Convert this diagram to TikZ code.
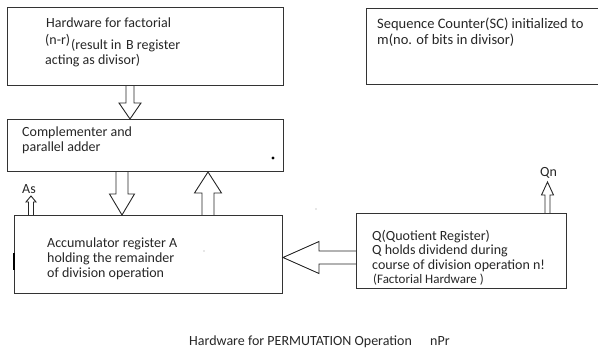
\documentclass[tikz,border=0pt]{standalone}
\usepackage{fontspec}
\setmainfont{Carlito}
\usetikzlibrary{calc}

\tikzset{
  box/.style={draw=black!80, line width=1pt, anchor=north west, inner sep=0pt},
  txt/.style={anchor=base west, inner sep=0pt, text=black!85, font=\fontsize{14}{16}\selectfont},
  hollow/.style={draw=black!85, line width=0.9pt, line join=miter},
}

% hollow block arrow: from, tip, shaft half width, head half width, head length
\newcommand\blockarrow[5]{%
  \coordinate (ba-h) at ($(#2)!#5!(#1)$);
  \draw[hollow] ($(#1)!#3!90:(#2)$) -- ($(ba-h)!#3!90:(#2)$) -- ($(ba-h)!#4!90:(#2)$)
    -- (#2) -- ($(ba-h)!#4!-90:(#2)$) -- ($(ba-h)!#3!-90:(#2)$) -- ($(#1)!#3!-90:(#2)$);
}

\begin{document}
\begin{tikzpicture}[x=1pt,y=-1pt,line cap=butt]
\useasboundingbox (0,0) rectangle (598,352);

% Boxes
\node[box, minimum width=276pt, minimum height=78pt] (fact) at (7,7) {};
\node[box, minimum width=240pt, minimum height=76pt] (sc) at (366,8) {};
\node[box, minimum width=276pt, minimum height=52pt] (comp) at (7,119) {};
\node[box, minimum width=268pt, minimum height=78pt] (acc) at (14,215) {};
\node[box, minimum width=210pt, minimum height=75pt] (qreg) at (356,213) {};

% Texts
\node[txt] (fact1) at (46,28) {Hardware for factorial};
\node[txt, font=\fontsize{14}{16}\selectfont] (fact2) at (45,45) {(n-r)};
\node[txt] (fact3) at (71,50) {(result in};
\node[txt] (fact4) at (126,50) {B register};
\node[txt] (fact5) at (45,65) {acting as divisor)};

\foreach \y/\line [count=\i] in {29/Sequence Counter(SC) initialized to, 45/m(no. of bits in divisor)}
  \node[txt, font=\fontsize{14.5}{16}\selectfont] (sc\i) at (377,\y) {\line};

\foreach \y/\line [count=\i] in {137/Complementer and, 152/parallel adder}
  \node[txt] (comp\i) at (22,\y) {\line};

\foreach \y/\line [count=\i] in {248/Accumulator register A, 263/holding the remainder, 278/of division operation}
  \node[txt] (acc\i) at (47,\y) {\line};

\foreach \y/\line [count=\i] in {241/Q(Quotient Register), 255/Q holds dividend during, 270/course of division operation n!}
  \node[txt] (qreg\i) at (372,\y) {\line};
\node[txt, font=\fontsize{13}{15}\selectfont] (qreg4) at (373,284) {(Factorial Hardware )};

\node[txt] (as) at (22,194) {As};
\node[txt] (qn) at (540,177) {Qn};

% Arrows
\coordinate (astip) at (31,196);
\coordinate (qntip) at (547.5,182);
\blockarrow{[xshift=123pt]fact.south west}{[xshift=123pt]comp.north west}{4pt}{11pt}{16pt}
\blockarrow{[xshift=115pt]comp.south west}{[xshift=108pt]acc.north west}{6pt}{12.5pt}{21pt}
\blockarrow{[xshift=194pt]acc.north west}{[xshift=201pt]comp.south west}{6pt}{13.5pt}{21pt}
\blockarrow{[xshift=17pt]acc.north west}{astip}{2.5pt}{5pt}{6pt}
\blockarrow{[xshift=191.5pt]qreg.north west}{qntip}{2.5pt}{6pt}{13pt}
\blockarrow{[yshift=-6.5pt]qreg.west}{[yshift=-3pt]acc.east}{6.5pt}{16pt}{36pt}

% marks
\draw[line width=2.2pt] ([yshift=-38pt]acc.north west) -- ([yshift=-55pt]acc.north west);
\fill (273,158) circle (1.6pt);
\fill[black!40] (204,251) circle (0.7pt);
\fill[black!40] (316,209) circle (0.7pt);

% Caption
\node[txt] (cap) at (189,346) {Hardware for PERMUTATION Operation};
\node[txt] (npr) at (430,346) {nPr};

\end{tikzpicture}
\end{document}
